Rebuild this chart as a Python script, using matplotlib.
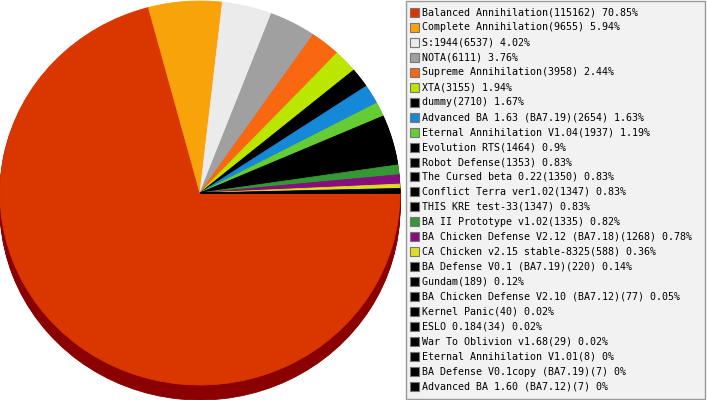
import matplotlib
matplotlib.use("Agg")
import matplotlib.pyplot as plt
from matplotlib.patches import Rectangle

mods = ["Balanced Annihilation", "Complete Annihilation", "S:1944", "NOTA",
        "Supreme Annihilation", "XTA", "dummy", "Advanced BA 1.63 (BA7.19)",
        "Eternal Annihilation V1.04", "Evolution RTS", "Robot Defense",
        "The Cursed beta 0.22", "Conflict Terra ver1.02", "THIS KRE test-33",
        "BA II Prototype v1.02", "BA Chicken Defense V2.12 (BA7.18)",
        "CA Chicken v2.15 stable-8325", "BA Defense V0.1 (BA7.19)", "Gundam",
        "BA Chicken Defense V2.10 (BA7.12)", "Kernel Panic", "ESLO 0.184",
        "War To Oblivion v1.68", "Eternal Annihilation V1.01",
        "BA Defense V0.1copy (BA7.19)", "Advanced BA 1.60 (BA7.12)"]
counts = [115162, 9655, 6537, 6111, 3958, 3155, 2710, 2654, 1937, 1464, 1353,
          1350, 1347, 1347, 1335, 1268, 588, 220, 189, 77, 40, 34, 29, 8, 7, 7]
colors = ["#da3700", "#f9a30a", "#ebebeb", "#a0a0a0", "#fa6711", "#bbe600",
          "#000000", "#1688d8", "#66cc33", "#000000", "#000000", "#000000",
          "#000000", "#000000", "#339933", "#880d7f", "#dddd22", "#000000",
          "#000000", "#000000", "#000000", "#000000", "#000000", "#000000",
          "#000000", "#000000"]

W, H = 707, 400
cx, cy = 200, 193      # pie centre in pixels (from top)
rx, ry = 200, 192      # slightly squashed
depth = 15


def fill_seams(wedges):
    # stroke each wedge in its own colour so no white hairlines show
    for w in wedges:
        w.set_edgecolor(w.get_facecolor())
        w.set_linewidth(0.6)


fig = plt.figure(figsize=(W / 100, H / 100), dpi=100)
fig.patch.set_facecolor("white")

ax = fig.add_axes([0, 0, 1, 1])

# side of the 3d pie, only the big slice shows from below
for d in range(depth, 0, -1):
    side, _ = ax.pie(counts, colors=["#8b0000"] * len(counts), startangle=0,
                     counterclock=False, center=(0, -d / ry), radius=1,
                     frame=True)
    fill_seams(side)
top, _ = ax.pie(counts, colors=colors, startangle=0, counterclock=False,
                center=(0, 0), radius=1, frame=True)
fill_seams(top)
ax.set_xlim(-cx / rx, (W - cx) / rx)
ax.set_ylim(-(H - cy) / ry, cy / ry)
ax.set_aspect("auto")
ax.axis("off")

# legend in pixel coords
lax = fig.add_axes([0, 0, 1, 1])
lax.set_xlim(0, W)
lax.set_ylim(H, 0)
lax.axis("off")
lax.add_patch(Rectangle((405.5, 0.5), 299.5, 398.5, facecolor="#f2f2f2",
                        edgecolor="#999999", linewidth=1))

total = sum(counts)
row0, step = 12.3, 14.97
for i, (name, n, c) in enumerate(zip(mods, counts, colors)):
    y = row0 + i * step
    pct = "{:g}".format(round(n / total * 100, 2))
    lax.add_patch(Rectangle((410, y - 4.5), 9, 9, facecolor=c,
                            edgecolor="#777777", linewidth=0.8))
    lax.text(422, y, "%s(%d) %s%%" % (name, n, pct), fontsize=7.2,
             family="DejaVu Sans Mono", va="center", ha="left", color="black")

fig.savefig("out.png", dpi=100)
